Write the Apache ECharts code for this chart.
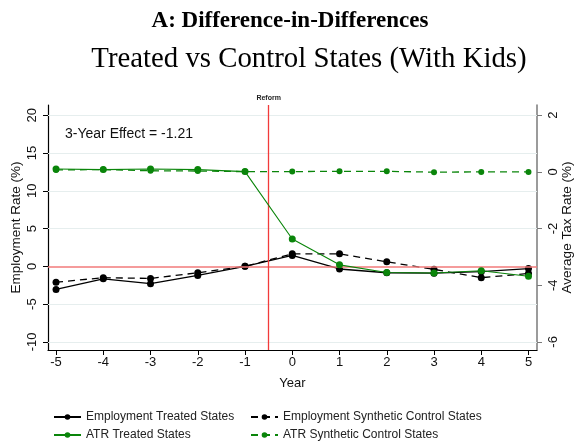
<!DOCTYPE html>
<html>
<head>
<meta charset="utf-8">
<script src="https://cdn.jsdelivr.net/npm/echarts@6/dist/echarts.min.js"></script>
<style>html,body{margin:0;padding:0;background:#fff;}#c{width:576px;height:444px;}</style>
</head>
<body>
<div id="c"></div>
<script>
const years = [-5, -4, -3, -2, -1, 0, 1, 2, 3, 4, 5];
const empTreated = [-3.05, -1.65, -2.3, -1.2, 0, 1.45, -0.35, -0.85, -0.9, -0.7, -0.3];
const empSynth = [-2.1, -1.5, -1.6, -0.85, 0, 1.65, 1.65, 0.6, -0.4, -1.5, -0.95];
const atrTreated = [0.10, 0.08, 0.10, 0.08, 0.01, -2.37, -3.28, -3.55, -3.57, -3.49, -3.68];
const atrSynth = [0.07, 0.08, 0.04, 0.03, 0.01, 0.01, 0.02, 0.02, -0.01, 0.0, 0.0];
const leftTicks = [-10, -5, 0, 5, 10, 15, 20];
const rightTicks = [-6, -4, -2, 0, 2];
const gridTicks = [-10, -5, 5, 10, 15, 20];
const reformYear = -0.5;
const effectText = '3-Year Effect = -1.21';

const pairs = arr => years.map((y, i) => [y, arr[i]]);
const sans = 'Liberation Sans';
const chart = echarts.init(document.getElementById('c'));

const series = [
  {
    name: 'Employment Treated States', type: 'line', yAxisIndex: 0,
    data: pairs(empTreated), symbol: 'circle', symbolSize: 7,
    itemStyle: { color: '#000' }, lineStyle: { color: '#000', width: 1.3, type: 'solid' },
    z: 4,
    markLine: {
      silent: true, symbol: 'none', animation: false,
      label: { show: false },
      data: gridTicks.map(v => ({ yAxis: v, lineStyle: { color: '#e6eeee', width: 1, type: 'solid' } })).concat([
        { yAxis: 0, lineStyle: { color: '#f27a7a', width: 1.5, type: 'solid' } },
        { xAxis: reformYear, lineStyle: { color: '#f23a3a', width: 1.3, type: 'solid' },
          label: { show: true, position: 'end', formatter: 'Reform', fontSize: 7, fontWeight: 'bold', color: '#222', fontFamily: sans, distance: 3 } }
      ])
    }
  },
  {
    name: 'Employment Synthetic Control States', type: 'line', yAxisIndex: 0,
    data: pairs(empSynth), symbol: 'circle', symbolSize: 7,
    itemStyle: { color: '#000' }, lineStyle: { color: '#000', width: 1.3, type: [7, 5] },
    z: 4
  },
  {
    name: 'ATR Treated States', type: 'line', yAxisIndex: 1,
    data: pairs(atrTreated), symbol: 'circle', symbolSize: 7,
    itemStyle: { color: '#0a850a' }, lineStyle: { color: '#0a850a', width: 1.1, type: 'solid' },
    z: 5
  },
  {
    name: 'ATR Synthetic Control States', type: 'line', yAxisIndex: 1,
    data: pairs(atrSynth), symbol: 'circle', symbolSize: 6,
    itemStyle: { color: '#0a850a' }, lineStyle: { color: '#0a850a', width: 1.3, type: [7, 5] },
    z: 5
  }
];

const legendText = { fontFamily: sans, fontSize: 12, color: '#222', lineHeight: 14 };

chart.setOption({
  animation: false,
  backgroundColor: '#fff',
  title: [
    { text: 'A: Difference-in-Differences', left: 285, top: 5, textAlign: 'center',
      textStyle: { fontFamily: 'Liberation Serif', fontWeight: 'bold', fontSize: 23, color: '#000' } },
    { text: 'Treated vs Control States (With Kids)', left: 304, top: 40, textAlign: 'center',
      textStyle: { fontFamily: 'Liberation Serif', fontWeight: 'normal', fontSize: 28.8, color: '#000' } },
    { text: effectText, left: 60, top: 122,
      textStyle: { fontFamily: sans, fontWeight: 'normal', fontSize: 14, color: '#111' } }
  ],
  grid: { left: 48, right: 39, top: 105, bottom: 94, containLabel: false, outerBoundsMode: 'none' },
  legend: [
    { orient: 'vertical', left: 53, top: 410, padding: 0, itemWidth: 27, itemHeight: 7, itemGap: 4,
      data: ['Employment Treated States', 'ATR Treated States'], textStyle: legendText, selectedMode: false },
    { orient: 'vertical', left: 250, top: 410, padding: 0, itemWidth: 27, itemHeight: 7, itemGap: 4,
      data: ['Employment Synthetic Control States', 'ATR Synthetic Control States'], textStyle: legendText, selectedMode: false }
  ],
  xAxis: {
    type: 'value', min: -5.17, max: 5.18,
    name: 'Year', nameLocation: 'middle', nameGap: 27, nameMoveOverlap: false,
    nameTextStyle: { fontFamily: sans, fontSize: 13, color: '#111' },
    axisLine: { show: true, onZero: false, lineStyle: { color: '#000', width: 1.2 } },
    axisTick: { show: true, length: 5, customValues: years, lineStyle: { color: '#000' } },
    axisLabel: { customValues: years, fontFamily: sans, fontSize: 13, color: '#111', margin: 6 },
    splitLine: { show: false }
  },
  yAxis: [
    {
      type: 'value', position: 'left', min: -11.07, max: 21.35,
      name: 'Employment Rate (%)', nameLocation: 'middle', nameGap: 25, nameRotate: 90, nameMoveOverlap: false,
      nameTextStyle: { fontFamily: sans, fontSize: 13.5, color: '#111' },
      axisLine: { show: true, onZero: false, lineStyle: { color: '#000', width: 1.2 } },
      axisTick: { show: true, length: 5, customValues: leftTicks, lineStyle: { color: '#000' } },
      axisLabel: { customValues: leftTicks, rotate: 90, fontFamily: sans, fontSize: 13, color: '#111', margin: 9 },
      splitLine: { show: false }
    },
    {
      type: 'value', position: 'right', min: -6.285, max: 2.36,
      name: 'Average Tax Rate (%)', nameLocation: 'middle', nameGap: 23, nameRotate: 90, nameMoveOverlap: false,
      nameTextStyle: { fontFamily: sans, fontSize: 13.5, color: '#111' },
      axisLine: { show: true, onZero: false, lineStyle: { color: '#7a7a7a', width: 1.5 } },
      axisTick: { show: true, length: 5, customValues: rightTicks, lineStyle: { color: '#7a7a7a' } },
      axisLabel: { customValues: rightTicks, rotate: 90, fontFamily: sans, fontSize: 13, color: '#111', margin: 10 },
      splitLine: { show: false }
    }
  ],
  series: series
});
</script>
</body>
</html>
